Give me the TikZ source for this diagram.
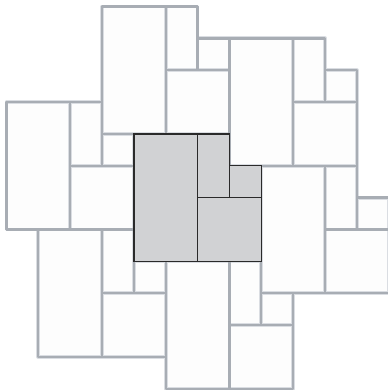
\documentclass[tikz,border=0pt]{standalone}
\definecolor{edgegray}{HTML}{A8ADB4}
\definecolor{edgehalo}{HTML}{DADDE2}
\definecolor{tilefill}{HTML}{FDFDFD}
\definecolor{centerfill}{HTML}{D1D2D4}
\definecolor{centeredge}{HTML}{2A2A2A}
\tikzset{
  tile fill/.style={fill=tilefill},
  tile halo/.style={draw=edgehalo, line width=3.8pt, line join=round, line cap=round},
  tile edge/.style={draw=edgegray, line width=2.3pt, line join=round, line cap=round},
  center tile/.style={draw=centeredge, line width=1.3pt, fill=centerfill, line join=miter}
}
\newcommand\tileset[1]{\path[#1] (4,4) rectangle (6,8) (6,4) rectangle (7,6) (7,5) rectangle (8,6) (6,6) rectangle (8,8);}
\begin{document}
\begin{tikzpicture}[x=31.85pt,y=-31.85pt]
\useasboundingbox (-0.2041,-0.2041) rectangle (11.978,12.041);
\clip (-0.2041,-0.2041) rectangle (11.978,12.041);
\fill[white] (-0.2041,-0.2041) rectangle (11.978,12.041);
\foreach \st in {tile fill, tile halo, tile edge}{
  \foreach \dx/\dy in {-1/-4, 3/-3, 4/1, 1/4, -3/3, -4/-1}{
    \begin{scope}[shift={(\dx,\dy)}]
      \tileset{\st}
    \end{scope}
  }
}
\tileset{center tile}
\end{tikzpicture}
\end{document}
